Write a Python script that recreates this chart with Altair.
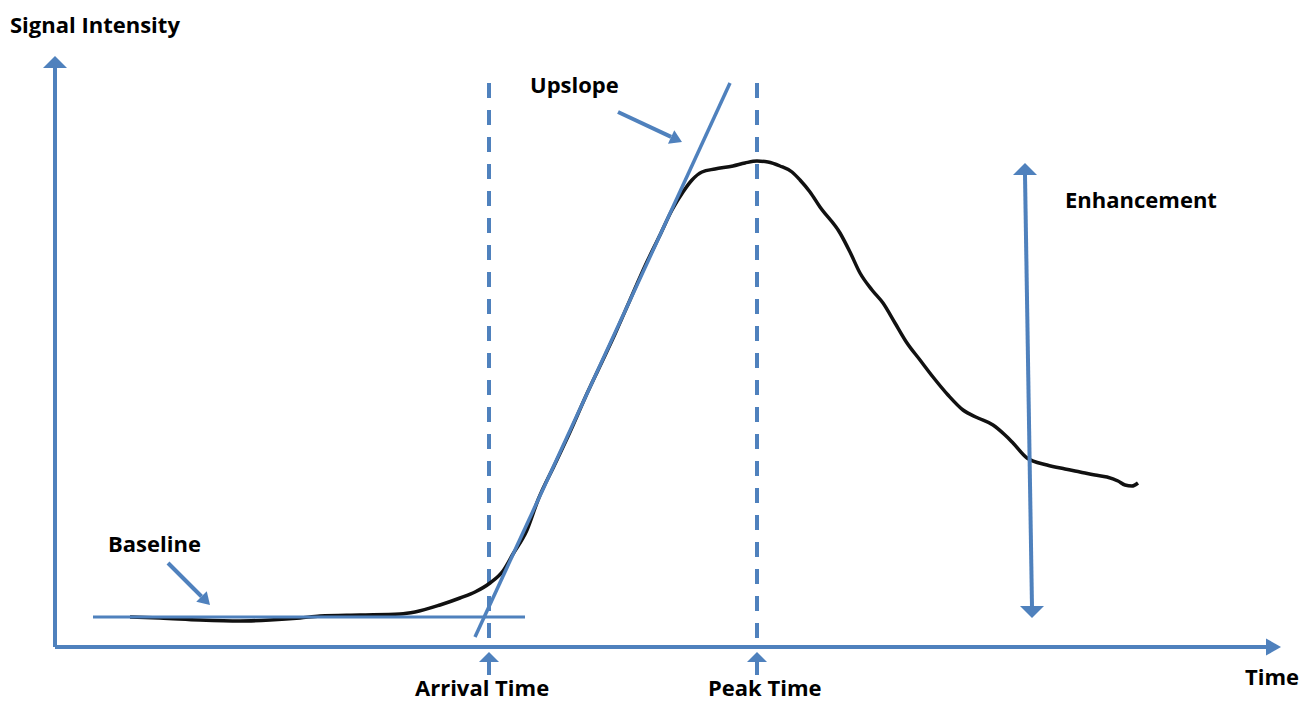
import altair as alt
import pandas as pd

BLUE = "#4f81bd"

# ---- signal-intensity curve (time units, signal units) ----
curve_time = [7.5, 10.5, 14.5, 18.5, 21.5, 24.5, 26.5, 30.5, 34.5, 36.0, 38.5, 40.5, 42.0,
              43.5, 44.8, 45.8, 47.2, 48.3, 50.0, 51.5, 53.0, 54.5, 56.0, 57.5, 59.0, 60.5,
              61.7, 62.8, 63.7, 64.7, 66.0, 67.8, 69.0, 70.2, 71.3, 72.5, 73.7, 74.5, 75.5,
              76.5, 78.5, 79.5, 80.5, 81.7, 82.8, 84.0, 85.2, 86.5, 87.8, 89.3, 90.8, 92.3,
              93.8, 95.0, 95.8, 97.2, 99.2, 101.0, 102.5, 104.0, 105.2, 106.3, 107.0, 107.7, 108.3]
curve_signal = [3.0, 2.9, 2.7, 2.6, 2.7, 2.9, 3.1, 3.2, 3.3, 3.5, 4.2, 4.9, 5.5,
                6.4, 7.6, 9.3, 11.7, 14.7, 18.3, 21.5, 24.9, 28.1, 31.3, 34.7, 38.1, 41.2,
                43.7, 45.5, 46.7, 47.5, 47.8, 48.1, 48.4, 48.6, 48.5, 48.1, 47.5, 46.7, 45.5,
                44.0, 41.4, 39.5, 37.4, 35.7, 34.4, 32.4, 30.4, 28.7, 27.0, 25.2, 23.7, 22.9,
                22.2, 21.2, 20.4, 18.9, 18.2, 17.8, 17.5, 17.2, 17.0, 16.6, 16.2, 16.1, 16.4]

# ---- key quantities ----
arrival_time = 43.4
peak_time = 70.2
baseline_level = 3.0
baseline_span = [3.8, 47.0]
upslope_time = [42.0, 67.5]
upslope_signal = [1.0, 56.4]
enh_time = [97.0, 97.7]
enh_signal = [48.4, 2.9]
y_axis_top = 59.1
x_axis_end = 122.6
dash_top = 56.4
dash_bottom = 0.4

# annotation pointer arrows: start -> tip
baseline_ptr = [(11.3, 8.4), (15.5, 4.2)]
upslope_ptr = [(56.3, 53.5), (62.7, 50.5)]

labels = ["Signal Intensity", "Baseline", "Upslope", "Enhancement",
          "Arrival Time", "Peak Time", "Time"]
label_t = [-4.5, 5.3, 47.5, 101.0, 36.0, 65.3, 119.0]
label_s = [61.4, 9.5, 55.4, 43.9, -4.9, -4.9, -3.8]

XS = alt.Scale(domain=[-4.7, 124.5], nice=False, zero=False)
YS = alt.Scale(domain=[-5.6, 63.9], nice=False, zero=False)


def X(f):
    return alt.X(f, type="quantitative", scale=XS, axis=None)


def Y(f):
    return alt.Y(f, type="quantitative", scale=YS, axis=None)


def segs(rows):
    return pd.DataFrame(rows, columns=["t1", "s1", "t2", "s2"])


def rules(df, width, dash=None):
    kw = dict(color=BLUE, strokeWidth=width)
    if dash:
        kw["strokeDash"] = dash
    return alt.Chart(df).mark_rule(**kw).encode(
        x=X("t1"), y=Y("s1"), x2="t2", y2="s2")


FLAT = "M0,0L1,1L-1,1Z"
NARROW = "M0,0L0.57,1L-0.57,1Z"
POINTER = "M0,0L0.62,1L-0.62,1Z"


def head(t, s, shape, size, angle):
    df = pd.DataFrame({"t": [t], "s": [s]})
    return alt.Chart(df).mark_point(
        filled=True, opacity=1, color=BLUE, shape=shape, size=size, angle=angle,
        strokeWidth=0).encode(x=X("t"), y=Y("s"))


def ptr_base(p, length_units=1.2):
    (x0, y0), (x1, y1) = p
    dx, dy = x1 - x0, y1 - y0
    d = (dx * dx + dy * dy) ** 0.5
    return (x1 - dx / d * length_units, y1 - dy / d * length_units)


bb = ptr_base(baseline_ptr)
ub = ptr_base(upslope_ptr)

thick = segs([
    (0, 0, 0, y_axis_top - 1.2),
    (0, 0, x_axis_end - 1.5, 0),
    (arrival_time, -2.8, arrival_time, -1.5),
    (peak_time, -2.8, peak_time, -1.5),
    (enh_time[0], enh_signal[0] - 1.2, enh_time[1], enh_signal[1] + 1.1),
    (baseline_ptr[0][0], baseline_ptr[0][1], bb[0], bb[1]),
    (upslope_ptr[0][0], upslope_ptr[0][1], ub[0], ub[1]),
])
baseline_seg = segs([
    (baseline_span[0], baseline_level, baseline_span[1], baseline_level),
])
tangent_seg = segs([
    (upslope_time[0], upslope_signal[0], upslope_time[1], upslope_signal[1]),
])
dashed = segs([
    (arrival_time, dash_top, arrival_time, dash_bottom),
    (peak_time, dash_top, peak_time, dash_bottom),
])

curve = alt.Chart(pd.DataFrame({"t": curve_time, "s": curve_signal})).mark_line(
    color="#111111", strokeWidth=3.5, interpolate="monotone").encode(
    x=X("t"), y=Y("s"), order="t:Q")

text = alt.Chart(pd.DataFrame({"label": labels, "t": label_t, "s": label_s})).mark_text(
    align="left", baseline="alphabetic", font="Open Sans", fontWeight="bold",
    fontSize=22, color="#000000").encode(x=X("t"), y=Y("s"), text="label:N")

layers = [
    rules(dashed, 4, [15, 12]),
    curve,
    rules(baseline_seg, 3),
    rules(tangent_seg, 3.5),
    rules(thick, 4),
    head(0, y_axis_top, FLAT, 576, 0),
    head(x_axis_end, 0, NARROW, 900, 90),
    head(arrival_time, -0.5, FLAT, 400, 0),
    head(peak_time, -0.5, FLAT, 400, 0),
    head(enh_time[0], enh_signal[0], FLAT, 576, 0),
    head(enh_time[1], enh_signal[1], FLAT, 576, 180),
    head(baseline_ptr[1][0], baseline_ptr[1][1], POINTER, 576, 135),
    head(upslope_ptr[1][0], upslope_ptr[1][1], POINTER, 576, 115),
    text,
]

chart = alt.layer(*layers).properties(
    width=1292, height=695, padding=0, autosize="none"
).configure_view(stroke=None)

chart.save("out.html", embed_options={"renderer": "svg", "actions": False})
